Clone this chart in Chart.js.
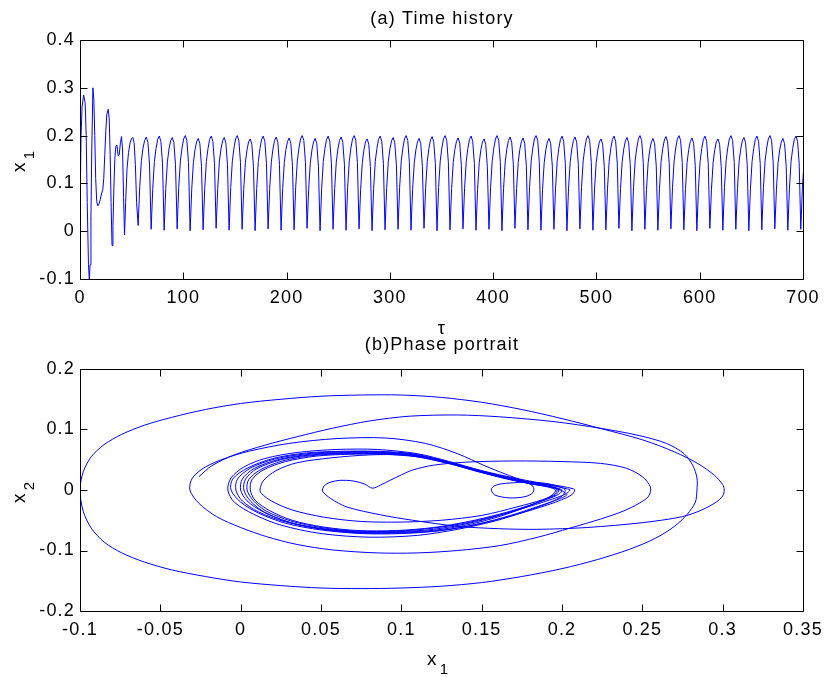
<!DOCTYPE html>
<html lang="en">
<head>
<meta charset="UTF-8">
<title>Time history and phase portrait</title>
<script src="https://cdn.jsdelivr.net/npm/chart.js"></script>
<style>
  body { margin: 0; background: #fff; }
  #wrap { position: relative; width: 829px; height: 678px; }
  canvas { position: absolute; left: 0; display: block; }
  #timeChart { top: 0; }
  #phaseChart { top: 336px; }
</style>
</head>
<body>
<div id="wrap">
  <canvas id="timeChart" width="829" height="336"></canvas>
  <canvas id="phaseChart" width="829" height="342"></canvas>
</div>

<script>
  // ---- (a) time history: start-up transient, read point by point ----
  const tTransient = [0, 1, 2, 3.5, 5, 6, 7, 8.2, 9, 9.8, 10.6, 11.4, 12.5, 13.4, 14.3, 15.2, 16.2, 17.2, 18.4, 19.6,
    20.8, 22, 23, 24, 25, 26, 27.3, 28.3, 29.2, 30.1, 31, 31.9, 32.8, 33.7, 34.7, 35.8, 36.9, 38, 39.1, 40.2,
    41.2, 42.2, 43.1, 44.2, 45.5, 47, 48.5, 50, 51.2, 52.4, 53.6, 54.8];
  const x1Transient = [0.03, 0.2, 0.26, 0.285, 0.268, 0.2, 0.06, -0.07, -0.1, -0.07, 0.03, 0.17, 0.3, 0.275, 0.2, 0.11, 0.062, 0.053, 0.057, 0.066,
    0.078, 0.086, 0.11, 0.16, 0.21, 0.245, 0.255, 0.235, 0.16, 0.06, -0.03, 0.01, 0.09, 0.15, 0.178, 0.18, 0.158, 0.16, 0.185, 0.198,
    0.17, 0.07, -0.008, 0.06, 0.13, 0.165, 0.185, 0.194, 0.196, 0.185, 0.14, 0.06];

  // steady oscillation: one row per cycle, 8 samples per cycle starting at each trough
  const STEADY_T0 = 56.3;
  const STEADY_DT = 1.5725;
  const x1Steady = [
    [0.012, 0.094, 0.148, 0.174, 0.190, 0.197, 0.186, 0.140],
    [0.004, 0.090, 0.146, 0.173, 0.192, 0.199, 0.188, 0.142],
    [0.002, 0.089, 0.145, 0.172, 0.189, 0.196, 0.185, 0.139],
    [0.005, 0.092, 0.147, 0.174, 0.193, 0.200, 0.190, 0.144],
    [0.001, 0.088, 0.143, 0.170, 0.187, 0.194, 0.183, 0.136],
    [0.003, 0.090, 0.146, 0.173, 0.192, 0.199, 0.188, 0.142],
    [0.006, 0.089, 0.145, 0.172, 0.189, 0.196, 0.185, 0.139],
    [0.002, 0.092, 0.147, 0.174, 0.193, 0.200, 0.190, 0.144],
    [0.004, 0.088, 0.143, 0.170, 0.187, 0.193, 0.182, 0.135],
    [0.001, 0.090, 0.146, 0.173, 0.192, 0.199, 0.188, 0.142],
    [0.005, 0.090, 0.145, 0.172, 0.190, 0.197, 0.186, 0.140],
    [0.002, 0.089, 0.144, 0.171, 0.188, 0.195, 0.184, 0.138],
    [0.003, 0.092, 0.147, 0.174, 0.193, 0.200, 0.190, 0.144],
    [0.006, 0.088, 0.143, 0.170, 0.187, 0.194, 0.183, 0.136],
    [0.001, 0.090, 0.146, 0.173, 0.192, 0.199, 0.188, 0.142],
    [0.004, 0.090, 0.145, 0.172, 0.190, 0.197, 0.186, 0.140],
    [0.002, 0.092, 0.147, 0.174, 0.193, 0.200, 0.190, 0.144],
    [0.005, 0.088, 0.143, 0.170, 0.187, 0.193, 0.182, 0.135],
    [0.001, 0.090, 0.146, 0.173, 0.192, 0.199, 0.188, 0.142],
    [0.003, 0.089, 0.145, 0.172, 0.189, 0.196, 0.185, 0.139],
    [0.004, 0.092, 0.147, 0.174, 0.193, 0.200, 0.190, 0.144],
    [0.002, 0.088, 0.143, 0.170, 0.187, 0.194, 0.183, 0.136],
    [0.006, 0.090, 0.146, 0.173, 0.191, 0.198, 0.187, 0.141],
    [0.001, 0.092, 0.147, 0.174, 0.193, 0.200, 0.190, 0.144],
    [0.003, 0.089, 0.144, 0.171, 0.188, 0.195, 0.184, 0.138],
    [0.005, 0.090, 0.146, 0.173, 0.192, 0.199, 0.188, 0.142],
    [0.002, 0.088, 0.143, 0.170, 0.187, 0.193, 0.182, 0.135],
    [0.004, 0.092, 0.147, 0.174, 0.193, 0.200, 0.190, 0.144],
    [0.001, 0.090, 0.145, 0.172, 0.190, 0.197, 0.186, 0.140],
    [0.006, 0.089, 0.144, 0.171, 0.188, 0.195, 0.184, 0.138],
    [0.003, 0.092, 0.147, 0.174, 0.193, 0.200, 0.190, 0.144],
    [0.002, 0.088, 0.143, 0.170, 0.187, 0.194, 0.183, 0.136],
    [0.004, 0.090, 0.146, 0.173, 0.192, 0.199, 0.188, 0.142],
    [0.001, 0.090, 0.145, 0.172, 0.190, 0.197, 0.186, 0.140],
    [0.005, 0.092, 0.147, 0.174, 0.193, 0.200, 0.190, 0.144],
    [0.002, 0.088, 0.143, 0.170, 0.187, 0.193, 0.182, 0.135],
    [0.003, 0.090, 0.146, 0.173, 0.192, 0.199, 0.188, 0.142],
    [0.006, 0.089, 0.145, 0.172, 0.189, 0.196, 0.185, 0.139],
    [0.001, 0.092, 0.147, 0.174, 0.193, 0.200, 0.190, 0.144],
    [0.004, 0.088, 0.143, 0.170, 0.187, 0.194, 0.183, 0.136],
    [0.002, 0.090, 0.146, 0.173, 0.191, 0.198, 0.187, 0.141],
    [0.005, 0.092, 0.147, 0.174, 0.193, 0.200, 0.190, 0.144],
    [0.003, 0.089, 0.144, 0.171, 0.188, 0.195, 0.184, 0.138],
    [0.001, 0.090, 0.146, 0.173, 0.192, 0.199, 0.188, 0.142],
    [0.006, 0.088, 0.143, 0.170, 0.187, 0.193, 0.182, 0.135],
    [0.002, 0.092, 0.147, 0.174, 0.193, 0.200, 0.190, 0.144],
    [0.004, 0.089, 0.145, 0.172, 0.189, 0.196, 0.185, 0.139],
    [0.001, 0.090, 0.146, 0.173, 0.192, 0.199, 0.188, 0.142],
    [0.003, 0.092, 0.147, 0.174, 0.193, 0.200, 0.190, 0.144],
    [0.005, 0.088, 0.143, 0.170, 0.187, 0.194, 0.183, 0.136],
    [0.002, 0.090, 0.146, 0.173, 0.192, 0.199, 0.188, 0.142],
    [0.004, 0.092, 0.146]
  ];

  // ---- (b) phase portrait (x1, x2) ----
  const phaseTransient = [
    [-0.026, 0.022], [-0.018, 0.04], [-0.004, 0.058], [0.015, 0.074], [0.035, 0.088], [0.057, 0.102], [0.08, 0.114],
    [0.105, 0.122], [0.135, 0.124], [0.161, 0.121], [0.195, 0.113], [0.224, 0.102], [0.248, 0.09], [0.265, 0.077],
    [0.276, 0.06], [0.2815, 0.04], [0.284, 0.02], [0.284, 0],
    [0.283, -0.02], [0.278, -0.04], [0.27, -0.06], [0.258, -0.08], [0.242, -0.098], [0.222, -0.115], [0.2, -0.13],
    [0.175, -0.143], [0.15, -0.153], [0.125, -0.159], [0.1, -0.162], [0.075, -0.163], [0.05, -0.162], [0.025, -0.158],
    [0, -0.152], [-0.022, -0.143], [-0.043, -0.132], [-0.06, -0.119], [-0.074, -0.104], [-0.085, -0.086],
    [-0.093, -0.063], [-0.098, -0.035], [-0.1, 0],
    [-0.098, 0.03], [-0.093, 0.055], [-0.085, 0.075], [-0.074, 0.092], [-0.06, 0.107], [-0.043, 0.12], [-0.022, 0.133],
    [0, 0.143], [0.025, 0.15], [0.05, 0.155], [0.075, 0.157], [0.1, 0.157], [0.125, 0.153], [0.15, 0.145], [0.175, 0.133],
    [0.2, 0.118], [0.225, 0.101], [0.25, 0.083], [0.27, 0.063], [0.285, 0.043], [0.295, 0.024], [0.3, 0.009], [0.301, 0],
    [0.3, -0.01], [0.296, -0.02], [0.287, -0.033], [0.275, -0.044], [0.25, -0.054], [0.2155, -0.062], [0.185, -0.065],
    [0.161, -0.064], [0.135, -0.06], [0.107, -0.05], [0.087, -0.041], [0.066, -0.028], [0.056, -0.014], [0.051, -0.002],
    [0.052, 0.007], [0.056, 0.013], [0.062, 0.016], [0.07, 0.015], [0.077, 0.01], [0.082, 0.003], [0.087, 0.008],
    [0.093, 0.016], [0.1, 0.025], [0.107, 0.033], [0.12, 0.041], [0.14, 0.046], [0.17, 0.048], [0.2, 0.047], [0.224, 0.044],
    [0.24, 0.036], [0.25, 0.022], [0.255, 0.005], [0.254, -0.01], [0.248, -0.022], [0.238, -0.035], [0.224, -0.048],
    [0.205, -0.063], [0.185, -0.078], [0.161, -0.092], [0.135, -0.1], [0.11, -0.104], [0.085, -0.104], [0.057, -0.099],
    [0.035, -0.09], [0.016, -0.077], [0, -0.062], [-0.015, -0.044], [-0.026, -0.022], [-0.0316, 0],
    [-0.03, 0.02], [-0.022, 0.038], [-0.01, 0.052], [0.005, 0.064], [0.03, 0.077], [0.06, 0.085], [0.09, 0.086],
    [0.115, 0.077], [0.135, 0.06], [0.152, 0.04], [0.165, 0.026], [0.175, 0.016], [0.182, 0.006], [0.182, -0.004],
    [0.177, -0.011], [0.167, -0.013], [0.158, -0.008], [0.156, 0.002], [0.16, 0.009], [0.17, 0.012], [0.182, 0.013],
    [0.192, 0.01], [0.199, 0.005], [0.202, 0],
    [0.2, -0.01], [0.193, -0.02], [0.18, -0.033], [0.16, -0.05], [0.135, -0.065], [0.11, -0.075], [0.08, -0.078],
    [0.05, -0.072], [0.025, -0.058], [0.008, -0.04], [-0.004, -0.02], [-0.008, 0],
    [-0.006, 0.02], [0.002, 0.038], [0.015, 0.052], [0.035, 0.062], [0.06, 0.067], [0.085, 0.067], [0.11, 0.06],
    [0.13, 0.047], [0.15, 0.032], [0.17, 0.02], [0.185, 0.012], [0.194, 0.006], [0.197, 0],
    [0.195, -0.008], [0.188, -0.016], [0.172, -0.028], [0.15, -0.042], [0.125, -0.05], [0.1, -0.053], [0.075, -0.052],
    [0.052, -0.045], [0.032, -0.033], [0.019, -0.018], [0.013, -0.006], [0.012, 0],
    [0.014, 0.015], [0.022, 0.032], [0.035, 0.045], [0.056, 0.053], [0.08, 0.058], [0.1, 0.058], [0.12, 0.052],
    [0.14, 0.038], [0.16, 0.025], [0.178, 0.014], [0.19, 0.007], [0.197, 0.002], [0.199, 0]
  ];

  // the settled cycle, traced several times with slightly different extents
  const phaseCycles = [
    [0.203, -0.008], [0.196, -0.017], [0.184, -0.028], [0.168, -0.042], [0.148, -0.056], [0.125, -0.067], [0.1, -0.072],
    [0.075, -0.072], [0.05, -0.066], [0.028, -0.055], [0.011, -0.038], [0, -0.02], [-0.006, 0],
    [-0.005, 0.018], [0.004, 0.036], [0.02, 0.052], [0.04, 0.061], [0.062, 0.064], [0.085, 0.064], [0.107, 0.06],
    [0.127, 0.048], [0.148, 0.032], [0.168, 0.019], [0.184, 0.011], [0.196, 0.006], [0.203, 0.002], [0.205, 0],
    [0.202, -0.007], [0.194, -0.015], [0.18, -0.027], [0.163, -0.04], [0.143, -0.053], [0.12, -0.063], [0.097, -0.068],
    [0.072, -0.068], [0.05, -0.062], [0.031, -0.051], [0.016, -0.035], [0.008, -0.018], [0.004, 0],
    [0.005, 0.017], [0.012, 0.033], [0.026, 0.048], [0.045, 0.057], [0.065, 0.06], [0.088, 0.06], [0.108, 0.056],
    [0.128, 0.045], [0.148, 0.03], [0.166, 0.018], [0.181, 0.01], [0.191, 0.005], [0.196, 0],
    [0.194, -0.008], [0.188, -0.017], [0.177, -0.029], [0.162, -0.043], [0.144, -0.056], [0.122, -0.066], [0.099, -0.07],
    [0.074, -0.07], [0.05, -0.064], [0.03, -0.053], [0.014, -0.036], [0.004, -0.018], [0, 0],
    [0.001, 0.018], [0.008, 0.035], [0.023, 0.05], [0.043, 0.059], [0.064, 0.062], [0.087, 0.062], [0.108, 0.058],
    [0.128, 0.046], [0.149, 0.031], [0.168, 0.018], [0.187, 0.011], [0.2, 0.006], [0.207, 0.002], [0.208, 0],
    [0.206, -0.008], [0.199, -0.017], [0.186, -0.029], [0.168, -0.043], [0.147, -0.057], [0.124, -0.067], [0.1, -0.071],
    [0.075, -0.071], [0.051, -0.065], [0.031, -0.054], [0.015, -0.037], [0.006, -0.018], [0.002, 0],
    [0.003, 0.018], [0.01, 0.035], [0.025, 0.05], [0.044, 0.058], [0.065, 0.061], [0.088, 0.061], [0.109, 0.057],
    [0.129, 0.046], [0.15, 0.031], [0.167, 0.018], [0.182, 0.01], [0.193, 0.005], [0.198, 0],
    [0.196, -0.008], [0.189, -0.016], [0.177, -0.028], [0.161, -0.042], [0.142, -0.055], [0.12, -0.065], [0.097, -0.069],
    [0.072, -0.069], [0.048, -0.063], [0.027, -0.052], [0.011, -0.036], [0.001, -0.018], [-0.003, 0],
    [-0.002, 0.018], [0.006, 0.036], [0.021, 0.051], [0.041, 0.06], [0.063, 0.063], [0.086, 0.063], [0.107, 0.059],
    [0.127, 0.047], [0.148, 0.031], [0.167, 0.018], [0.182, 0.01], [0.194, 0.005], [0.2, 0],
    [0.198, -0.007], [0.191, -0.015], [0.178, -0.027], [0.161, -0.04], [0.142, -0.052], [0.12, -0.062], [0.097, -0.067],
    [0.073, -0.067], [0.051, -0.061], [0.032, -0.05], [0.018, -0.034], [0.009, -0.017], [0.006, 0],
    [0.007, 0.017], [0.014, 0.033], [0.028, 0.047], [0.047, 0.056], [0.067, 0.059], [0.089, 0.059], [0.109, 0.055],
    [0.129, 0.044], [0.149, 0.03], [0.167, 0.018], [0.181, 0.01], [0.193, 0.005], [0.199, 0]
  ];

  const FONT = '"Liberation Sans", Arial, Helvetica, sans-serif';
  const LINE_BLUE = '#0000ff';
  const TICK_LEN = 7;

  const timePoints = tTransient.map((t, i) => ({ x: t, y: x1Transient[i] }));
  x1Steady.flat().forEach((v, i) => timePoints.push({ x: STEADY_T0 + i * STEADY_DT, y: v }));
  const phasePoints = phaseTransient.concat(phaseCycles).map(p => ({ x: p[0], y: p[1] }));

  const fmt = v => String(Number(v.toFixed(2)));

  // "x" with a lowered subscript, optionally rotated for the y axis
  function drawSub(ctx, base, sub, x, y, rotated) {
    ctx.save();
    ctx.translate(x, y);
    if (rotated) ctx.rotate(-Math.PI / 2);
    ctx.fillStyle = '#000';
    ctx.textAlign = 'left';
    ctx.textBaseline = 'alphabetic';
    ctx.font = '19px ' + FONT;
    ctx.fillText(base, 0, 0);
    const w = ctx.measureText(base).width;
    ctx.font = '15px ' + FONT;
    ctx.fillText(sub, w + 2, 9);
    ctx.restore();
  }

  // matlab look: closed box with inward ticks on all four sides
  function boxPlugin(drawLabels) {
    return {
      id: 'matlabBox',
      beforeDraw(chart) { chart.ctx.letterSpacing = '1.2px'; },
      afterDraw(chart) {
        const { ctx, chartArea: a, scales } = chart;
        const L = Math.round(a.left) + 0.5, R = Math.round(a.right) + 0.5;
        const T = Math.round(a.top) + 0.5, B = Math.round(a.bottom) + 0.5;
        ctx.save();
        ctx.strokeStyle = '#000';
        ctx.lineWidth = 1;
        ctx.beginPath();
        scales.x.ticks.forEach((t, i) => {
          const p = Math.round(scales.x.getPixelForTick(i)) + 0.5;
          ctx.moveTo(p, B); ctx.lineTo(p, B - TICK_LEN);
          ctx.moveTo(p, T); ctx.lineTo(p, T + TICK_LEN);
        });
        scales.y.ticks.forEach((t, i) => {
          const p = Math.round(scales.y.getPixelForTick(i)) + 0.5;
          ctx.moveTo(L, p); ctx.lineTo(L + TICK_LEN, p);
          ctx.moveTo(R, p); ctx.lineTo(R - TICK_LEN, p);
        });
        ctx.rect(L, T, R - L, B - T);
        ctx.stroke();
        ctx.fillStyle = '#000';
        ctx.textAlign = 'center';
        ctx.textBaseline = 'alphabetic';
        ctx.font = '18px ' + FONT;
        drawLabels(ctx);
        ctx.restore();
      }
    };
  }

  function axisOpts(min, max, step, isX, size) {
    return {
      type: 'linear',
      min: min,
      max: max,
      afterFit: s => { if (isX) s.height = size; else s.width = size; },
      ticks: {
        stepSize: step,
        padding: isX ? 8 : 5,
        color: '#000',
        font: { family: FONT, size: 18 },
        maxRotation: 0,
        autoSkip: false,
        callback: fmt
      },
      grid: { display: false, drawTicks: false },
      border: { display: false }
    };
  }

  function lineChart(id, points, tension, padTop, xAxis, yAxis, drawLabels) {
    return new Chart(document.getElementById(id), {
      type: 'scatter',
      data: {
        datasets: [{
          data: points,
          showLine: true,
          borderColor: LINE_BLUE,
          borderWidth: 1,
          pointRadius: 0,
          tension: tension
        }]
      },
      options: {
        responsive: false,
        animation: false,
        events: [],
        layout: { padding: { left: 0, right: 26, top: padTop, bottom: 0 } },
        plugins: { legend: { display: false }, tooltip: { enabled: false } },
        scales: { x: xAxis, y: yAxis }
      },
      plugins: [boxPlugin(drawLabels)]
    });
  }

  lineChart('timeChart', timePoints, 0, 40,
    axisOpts(0, 700, 100, true, 57),
    axisOpts(-0.1, 0.4, 0.1, false, 80),
    ctx => {
      ctx.fillText('(a) Time history', 442, 24);
      ctx.fillText('τ', 442, 334);
      drawSub(ctx, 'x', '1', 25, 172, true);
    });

  lineChart('phaseChart', phasePoints, 0.3, 33,
    axisOpts(-0.1, 0.35, 0.05, true, 67),
    axisOpts(-0.2, 0.2, 0.1, false, 80),
    ctx => {
      ctx.fillText('(b)Phase portrait', 442, 14);
      drawSub(ctx, 'x', '2', 25, 167, true);
      drawSub(ctx, 'x', '1', 427, 329, false);
    });
</script>
</body>
</html>
